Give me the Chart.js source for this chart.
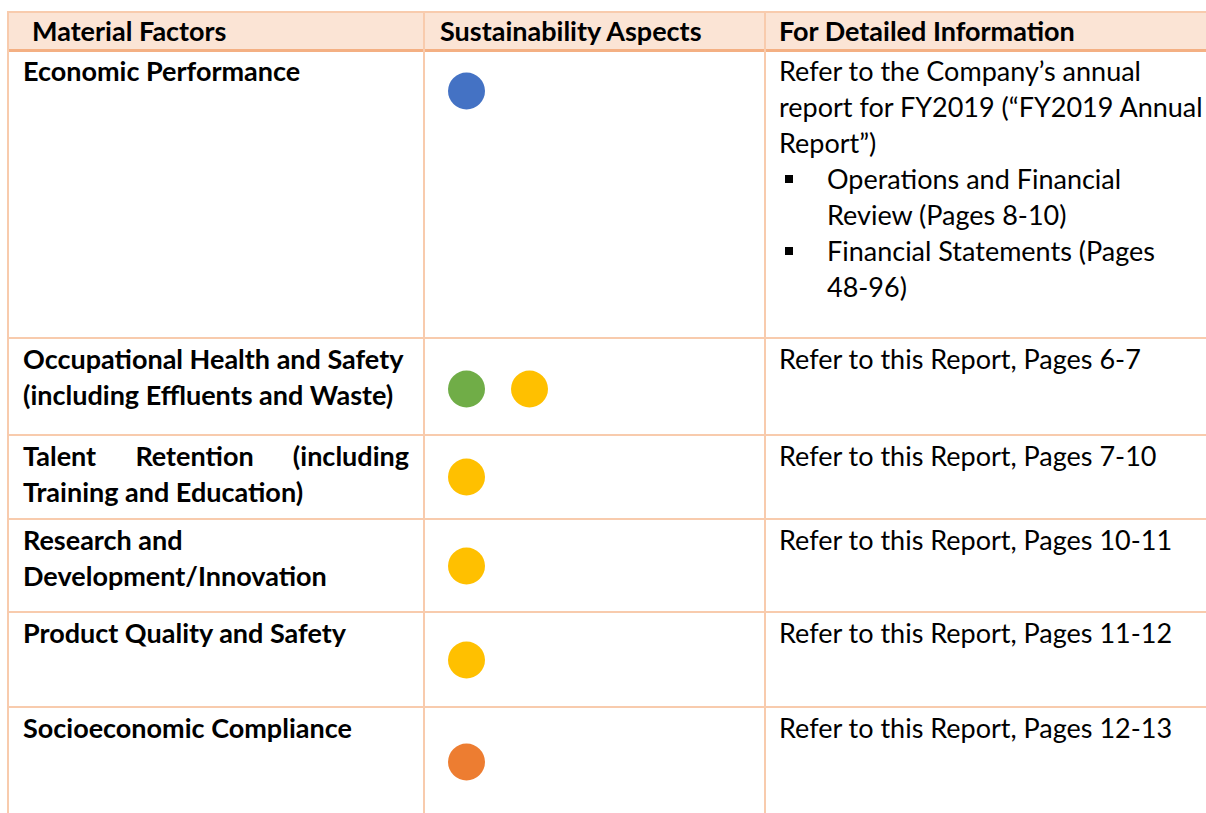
<!DOCTYPE html>
<html>
<head>
<meta charset="utf-8">
<script src="https://cdn.jsdelivr.net/npm/chart.js@4/dist/chart.umd.min.js"></script>
<style>
  html, body { margin: 0; padding: 0; background: #ffffff; width: 1206px; height: 813px; overflow: hidden; }
  #page { position: relative; width: 1206px; height: 813px; font-family: Lato, "Open Sans", sans-serif; color: #000; }
  .hline, .vline { position: absolute; background: #F8CBAD; }
  .hdrfill { position: absolute; background: #FBE4D5; }
  .cell { position: absolute; font-size: 27px; line-height: 36px; white-space: nowrap; }
  .bold { font-weight: 700; }
  .line { display: block; height: 36px; }
  .just { text-align: justify; text-align-last: justify; white-space: normal; }
  .bullet { position: relative; padding-left: 48px; }
  .bullet .mark { position: absolute; left: 6px; top: 14px; width: 8px; height: 8px; background: #000; }
  canvas.dots { position: absolute; }
</style>
</head>
<body>
<div id="page"></div>
<script>
// ---------------- data ----------------
const headerLabels = ['Material Factors', 'Sustainability Aspects', 'For Detailed Information'];

const materialFactors = [
  ['Economic Performance'],
  ['Occupational Health and Safety', '(including Effluents and Waste)'],
  ['Talent Retention (including', 'Training and Education)'],
  ['Research and', 'Development/Innovation'],
  ['Product Quality and Safety'],
  ['Socioeconomic Compliance']
];

const sustainabilityAspects = ['Economic', 'Environmental', 'Social', 'Governance'];

// aspects marked for each material factor (one dot each)
const factorAspects = [
  ['Economic'],
  ['Environmental', 'Social'],
  ['Social'],
  ['Social'],
  ['Social'],
  ['Governance']
];

const detailText = [
  ['Refer to the Company\u2019s annual', 'report for FY2019 (\u201CFY2019 Annual', 'Report\u201D)'],
  ['Refer to this Report, Pages 6-7'],
  ['Refer to this Report, Pages 7-10'],
  ['Refer to this Report, Pages 10-11'],
  ['Refer to this Report, Pages 11-12'],
  ['Refer to this Report, Pages 12-13']
];

const detailBullets = [
  [['Operations and Financial', 'Review (Pages 8-10)'], ['Financial Statements (Pages', '48-96)']],
  [], [], [], [], []
];

// ---------------- styles / layout ----------------
const aspectColors = { Economic: '#4472C4', Environmental: '#70AD47', Social: '#FFC000', Governance: '#ED7D31' };
const colX = [8, 424, 765, 1230];
const tableTop = 12, headerBottom = 50;
const rowTops = [50, 338, 435, 519, 612, 707, 830];
const dotCenterY = [91, 389, 477, 566, 660, 762];
const textPadTop = 3;

const page = document.getElementById('page');
function el(tag, cls, css, parent) {
  const e = document.createElement(tag);
  if (cls) e.className = cls;
  Object.assign(e.style, css || {});
  (parent || page).appendChild(e);
  return e;
}

// header fill
el('div', 'hdrfill', { left: colX[0] + 'px', top: tableTop + 'px', width: (1206 - colX[0]) + 'px', height: (headerBottom - tableTop) + 'px' });

// header text
const hdrX = [32, 440, 779];
headerLabels.forEach((t, i) => {
  const c = el('div', 'cell bold', { left: hdrX[i] + 'px', top: (tableTop + 1) + 'px' });
  c.textContent = t;
});

// body text
materialFactors.forEach((lines, r) => {
  const c = el('div', 'cell bold', { left: '23px', top: (rowTops[r] + textPadTop) + 'px', width: '386px' });
  lines.forEach((ln, k) => {
    const d = el('div', 'line' + (r === 2 && k === 0 ? ' just' : ''), {}, c);
    d.textContent = ln;
  });
});
detailText.forEach((lines, r) => {
  const c = el('div', 'cell', { left: '779px', top: (rowTops[r] + textPadTop) + 'px' });
  lines.forEach(ln => { el('div', 'line', {}, c).textContent = ln; });
  detailBullets[r].forEach(b => {
    const bd = el('div', 'bullet', {}, c);
    el('span', 'mark', {}, bd);
    b.forEach(ln => { el('div', 'line', {}, bd).textContent = ln; });
  });
});

// grid lines
el('div', 'hline', { left: colX[0] + 'px', top: (tableTop - 1) + 'px', width: (1206 - colX[0]) + 'px', height: '2px' });
el('div', 'hline', { left: colX[0] + 'px', top: (headerBottom - 1) + 'px', width: (1206 - colX[0]) + 'px', height: '3px', background: '#F4B083' });
rowTops.slice(1, 6).forEach(y => {
  el('div', 'hline', { left: colX[0] + 'px', top: (y - 1) + 'px', width: (1206 - colX[0]) + 'px', height: '2px' });
});
colX.slice(0, 3).forEach(x => {
  el('div', 'vline', { left: (x - 1) + 'px', top: (tableTop - 1) + 'px', width: '2px', height: (813 - tableTop + 1) + 'px' });
});

// ---------------- dots drawn by Chart.js ----------------
const cellLeft = colX[1] + 1, cellWidth = colX[2] - colX[1] - 2;
const slotSpacing = 63, firstSlotOffset = 41.5;
const xMin = -firstSlotOffset / slotSpacing;
const xMax = xMin + cellWidth / slotSpacing;
const dotH = 60;

factorAspects.forEach((aspects, r) => {
  const cv = el('canvas', 'dots', { left: cellLeft + 'px', top: (dotCenterY[r] - dotH / 2) + 'px' });
  cv.width = cellWidth; cv.height = dotH;
  cv.style.width = cellWidth + 'px'; cv.style.height = dotH + 'px';
  new Chart(cv, {
    type: 'scatter',
    data: {
      datasets: [{
        label: materialFactors[r].join(' '),
        data: aspects.map((a, i) => ({ x: i, y: 0, aspect: a })),
        backgroundColor: aspects.map(a => aspectColors[a]),
        borderWidth: 0,
        pointRadius: 18.5,
        pointHoverRadius: 18.5,
        clip: false
      }]
    },
    options: {
      responsive: false,
      animation: false,
      devicePixelRatio: 1,
      layout: { padding: 0, autoPadding: false },
      plugins: { legend: { display: false }, tooltip: { enabled: false } },
      scales: {
        x: { type: 'linear', min: xMin, max: xMax, display: false },
        y: { type: 'linear', min: -1, max: 1, display: false }
      }
    }
  });
});
</script>
</body>
</html>
